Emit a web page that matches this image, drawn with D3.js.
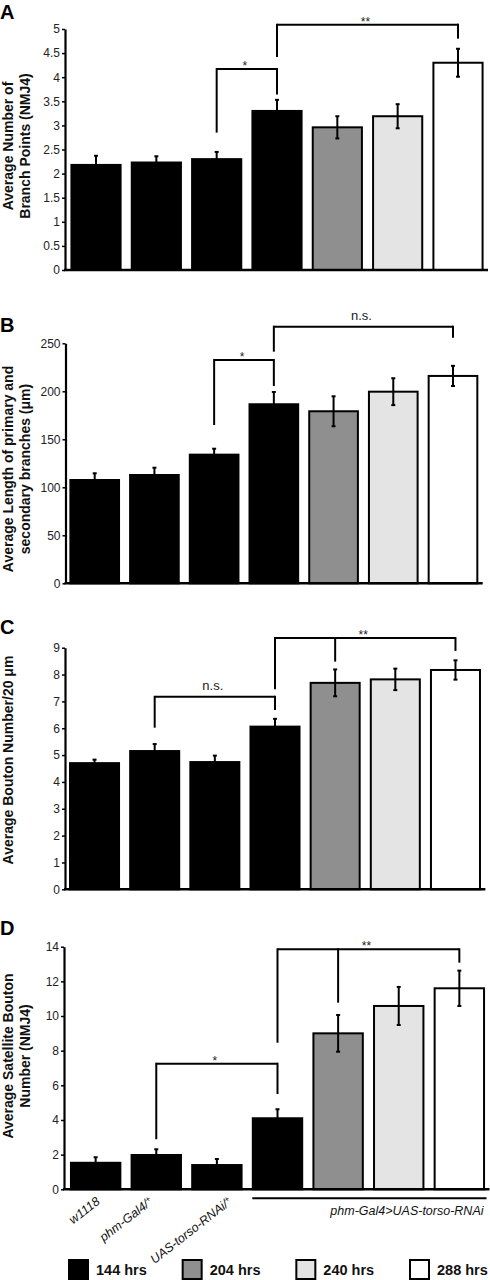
<!DOCTYPE html>
<html><head><meta charset="utf-8">
<script src="https://cdn.jsdelivr.net/npm/d3@7"></script>
<style>
html,body{margin:0;padding:0;background:#fff;}
svg{display:block;font-family:"Liberation Sans",Arial,sans-serif;}
</style></head>
<body>
<svg id="chart" width="490" height="1280"></svg>
<script>
// ---------- DATA ----------
const categories = ["w1118", "phm-Gal4/+", "UAS-torso-RNAi/+", "RNAi 144 hrs", "RNAi 204 hrs", "RNAi 240 hrs", "RNAi 288 hrs"];
const timepoints = ["144 hrs", "144 hrs", "144 hrs", "144 hrs", "204 hrs", "240 hrs", "288 hrs"];
const legendLabels = ["144 hrs", "204 hrs", "240 hrs", "288 hrs"];
const xLabels = ["w1118", "phm-Gal4/", "UAS-torso-RNAi/"];
const groupLabel = "phm-Gal4>UAS-torso-RNAi";

const branchPoints    = [2.18, 2.23, 2.30, 3.30, 2.96, 3.19, 4.30];
const branchPointsErr = [0.19, 0.13, 0.15, 0.23, 0.23, 0.25, 0.29];
const branchLength    = [107.6, 112.8, 134.0, 186.5, 179.2, 199.6, 216.0];
const branchLengthErr = [7.0, 7.6, 6.2, 12.8, 15.6, 14.0, 10.5];
const boutonNumber    = [4.70, 5.15, 4.74, 6.06, 7.69, 7.82, 8.17];
const boutonNumberErr = [0.13, 0.26, 0.24, 0.29, 0.50, 0.40, 0.36];
const satellite       = [1.53, 1.98, 1.40, 4.10, 9.00, 10.58, 11.60];
const satelliteErr    = [0.32, 0.33, 0.35, 0.52, 1.06, 1.10, 1.02];

const ticksA = [0, 0.5, 1, 1.5, 2, 2.5, 3, 3.5, 4, 4.5, 5];
const ticksB = [0, 50, 100, 150, 200, 250];
const ticksC = [0, 1, 2, 3, 4, 5, 6, 7, 8, 9];
const ticksD = [0, 2, 4, 6, 8, 10, 12, 14];

// significance brackets: legs (category index, bottom value), bar height value, label
const bracketsA = [
  {label: "*",  top: 4.17, legs: [[2, 2.85], [3, 3.64]]},
  {label: "**", top: 5.09, legs: [[3, 4.42], [6, 4.80]]}
];
const bracketsB = [
  {label: "*",    top: 232.6, legs: [[2, 164.9], [3, 205.5]]},
  {label: "n.s.", top: 267.3, legs: [[3, 241.3], [6, 255.8]]}
];
const bracketsC = [
  {label: "n.s.", top: 7.17, legs: [[1, 6.02], [3, 6.68]]},
  {label: "**",   top: 9.36, legs: [[3, 7.45], [4, 8.48], [6, 8.88]]}
];
const bracketsD = [
  {label: "*",  top: 7.25,  legs: [[1, 2.89], [3, 5.50]]},
  {label: "**", top: 13.85, legs: [[3, 8.46], [4, 10.77], [6, 13.08]]}
];

// ---------- STYLE ----------
const fillFor = {"144 hrs": "#000000", "204 hrs": "#8f8f8f", "240 hrs": "#e4e4e4", "288 hrs": "#ffffff"};

const panels = [
  {letter: "A", letterY: 19, values: branchPoints, errs: branchPointsErr, domain: [0, 5], ticks: ticksA,
   fmt: d => String(d), axisX: 65, yPx: [270, 29], xr: [66, 488], title: ["Average Number of", "Branch Points (NMJ4)"], titleY: 146,
   brackets: bracketsA},
  {letter: "B", letterY: 332, values: branchLength, errs: branchLengthErr, domain: [0, 250], ticks: ticksB,
   fmt: d => String(d), axisX: 65.5, yPx: [583.3, 343.3], xr: [65, 482.7], title: ["Average Length of primary and", "secondary branches (\u03BCm)"], titleY: 469,
   brackets: bracketsB},
  {letter: "C", letterY: 634, values: boutonNumber, errs: boutonNumberErr, domain: [0, 9], ticks: ticksC,
   fmt: d => String(d), axisX: 65, yPx: [889.3, 647.7], xr: [64.6, 485.4], title: ["Average Bouton Number/20 \u03BCm"], titleY: 760,
   brackets: bracketsC},
  {letter: "D", letterY: 935, values: satellite, errs: satelliteErr, domain: [0, 14], ticks: ticksD,
   fmt: d => String(d), axisX: 64, yPx: [1189.3, 946.7], xr: [65.5, 489.5], title: ["Average Satellite Bouton", "Number (NMJ4)"], titleY: 1056,
   brackets: bracketsD}
];

const svg = d3.select("#chart");

let lastX = null, lastY = null, lastPanel = null;

panels.forEach(p => {
  const g = svg.append("g");
  const x = d3.scaleBand().domain(categories).range(p.xr).paddingInner(0.185).paddingOuter(0.09);
  const y = d3.scaleLinear().domain(p.domain).range(p.yPx);

  // panel letter
  g.append("text").attr("x", 0).attr("y", p.letterY)
    .attr("font-size", 20).attr("font-weight", "bold").attr("fill", "#000").text(p.letter);

  // y title
  const lineX = p.title.length === 2 ? [13, 29.5] : [13];
  p.title.forEach((t, i) => {
    g.append("text")
      .attr("transform", `translate(${lineX[i]},${p.titleY}) rotate(-90)`)
      .attr("text-anchor", "middle").attr("font-size", 14).attr("font-weight", "bold")
      .attr("fill", "#111").text(t);
  });

  // bars
  g.selectAll("rect.bar").data(categories).join("rect")
    .attr("class", "bar")
    .attr("x", d => x(d))
    .attr("width", x.bandwidth())
    .attr("y", (d, i) => y(p.values[i]))
    .attr("height", (d, i) => y(0) - y(p.values[i]))
    .attr("fill", (d, i) => fillFor[timepoints[i]])
    .attr("stroke", "#000").attr("stroke-width", 2);

  // error bars
  const eb = g.selectAll("g.err").data(categories).join("g").attr("class", "err");
  eb.append("line")
    .attr("x1", d => x(d) + x.bandwidth() / 2).attr("x2", d => x(d) + x.bandwidth() / 2)
    .attr("y1", (d, i) => y(p.values[i] - p.errs[i])).attr("y2", (d, i) => y(p.values[i] + p.errs[i]))
    .attr("stroke", "#000").attr("stroke-width", 2);
  [1, -1].forEach(s => {
    eb.append("line")
      .attr("x1", d => x(d) + x.bandwidth() / 2 - 2).attr("x2", d => x(d) + x.bandwidth() / 2 + 2)
      .attr("y1", (d, i) => y(p.values[i] + s * p.errs[i])).attr("y2", (d, i) => y(p.values[i] + s * p.errs[i]))
      .attr("stroke", "#000").attr("stroke-width", 2);
  });

  // y axis
  const ax = g.append("g").attr("transform", `translate(${p.axisX},0)`)
    .call(d3.axisLeft(y).tickValues(p.ticks).tickFormat(p.fmt).tickSize(3).tickSizeOuter(0).tickPadding(2));
  ax.select(".domain").attr("stroke", "#000").attr("stroke-width", 2.2);
  ax.selectAll(".tick line").attr("stroke", "#000").attr("stroke-width", 1.5);
  ax.selectAll(".tick text").attr("font-size", 12).attr("fill", "#222")
    .attr("font-family", "'Liberation Sans', Arial, sans-serif");

  // x baseline
  g.append("line").attr("x1", p.axisX - 1).attr("x2", p.xr[1])
    .attr("y1", y(0)).attr("y2", y(0)).attr("stroke", "#000").attr("stroke-width", 2.5);

  // brackets
  p.brackets.forEach(b => {
    const xs = b.legs.map(l => x(categories[l[0]]) + x.bandwidth() / 2);
    const ty = y(b.top);
    g.append("line").attr("x1", d3.min(xs)).attr("x2", d3.max(xs)).attr("y1", ty).attr("y2", ty)
      .attr("stroke", "#000").attr("stroke-width", 2);
    b.legs.forEach((l, i) => {
      g.append("line").attr("x1", xs[i]).attr("x2", xs[i]).attr("y1", ty - 1).attr("y2", y(l[1]))
        .attr("stroke", "#000").attr("stroke-width", 2);
    });
    const isNs = b.label === "n.s.";
    g.append("text").attr("x", (d3.min(xs) + d3.max(xs)) / 2 - 2)
      .attr("y", isNs ? ty - 7 : ty + 1)
      .attr("text-anchor", "middle").attr("font-size", isNs ? 13 : 12).attr("fill", "#222")
      .text(b.label);
  });

  lastX = x; lastY = y; lastPanel = p;
});

// x category labels under panel D
const labelDx = [5, -2.5, 16];
xLabels.forEach((t, i) => {
  const cx = lastX(categories[i]) + lastX.bandwidth() / 2 + labelDx[i];
  const tx = svg.append("text")
    .attr("transform", `translate(${cx},1203) rotate(-38)`)
    .attr("text-anchor", "end").attr("font-size", 12.5).attr("font-style", "italic").attr("fill", "#111");
  tx.append("tspan").text(t);
  if (i > 0) tx.append("tspan").attr("font-size", 8.5).attr("dy", -4).text("+");
});

// group line and label
const gx1 = lastX(categories[3]) + 0.5, gx2 = lastPanel.xr[1] - 3;
svg.append("line").attr("x1", gx1 - 1).attr("x2", gx2).attr("y1", 1198.3).attr("y2", 1198.3)
  .attr("stroke", "#000").attr("stroke-width", 2);
svg.append("text").attr("x", gx2 - 3).attr("y", 1215).attr("text-anchor", "end")
  .attr("font-size", 12.5).attr("font-style", "italic").attr("fill", "#111").text(groupLabel);

// legend
const legX = d3.scalePoint().domain(legendLabels).range([69, 410]);
const leg = svg.selectAll("g.leg").data(legendLabels).join("g").attr("class", "leg")
  .attr("transform", d => `translate(${legX(d)},1260)`);
leg.append("rect").attr("x", 0).attr("y", 0).attr("width", 19).attr("height", 19)
  .attr("fill", d => fillFor[d]).attr("stroke", "#000").attr("stroke-width", 2);
leg.append("text").attr("x", 27).attr("y", 14.5).attr("font-size", 14.5).attr("font-weight", "bold")
  .attr("fill", "#111").text(d => d);
</script>
</body></html>
